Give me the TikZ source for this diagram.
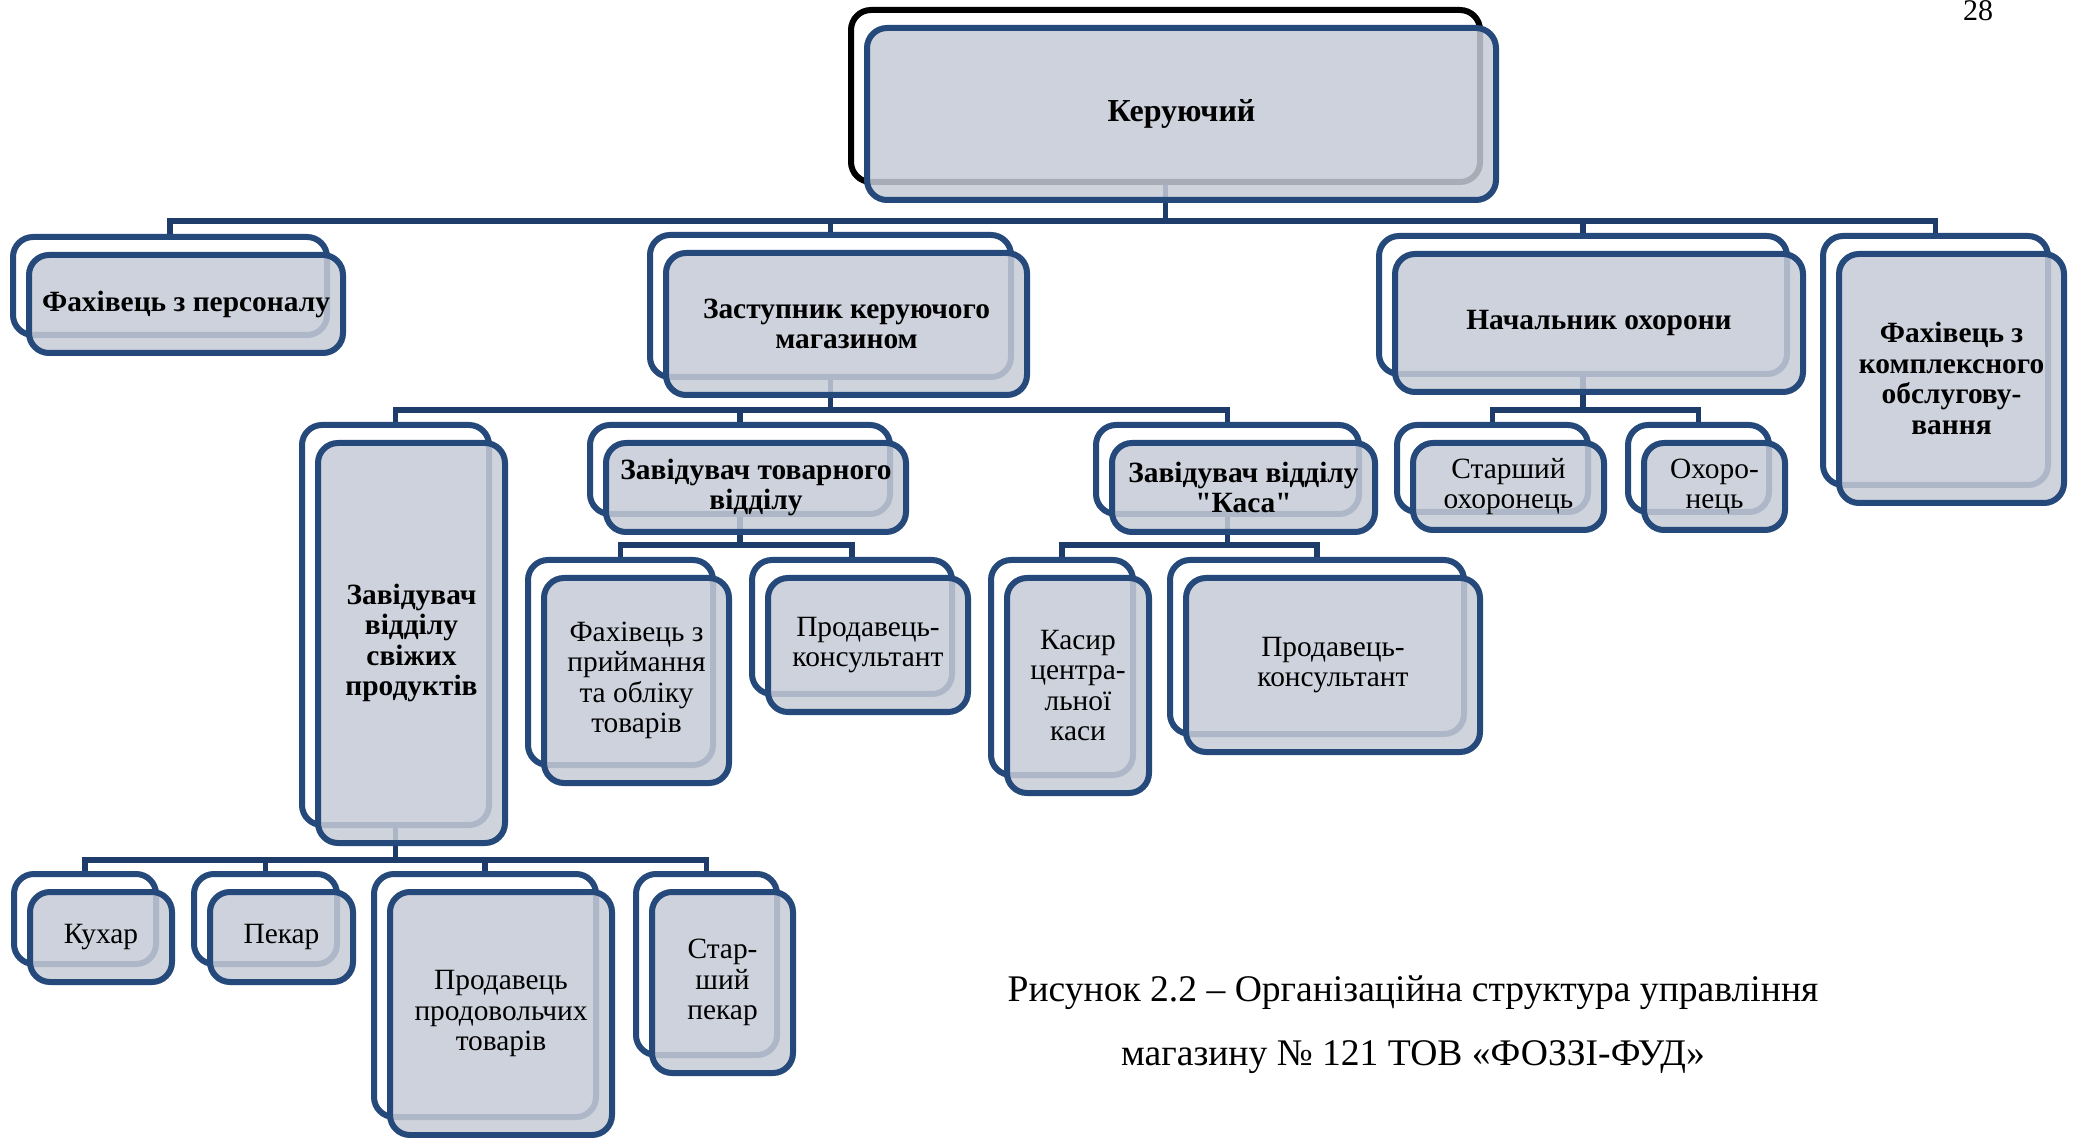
\documentclass[tikz,border=0pt]{standalone}
\usepackage{fontspec}
\setmainfont{Liberation Serif}[Ligatures=TeXOff]
\usetikzlibrary{calc}
\definecolor{frameblue}{HTML}{24497A}
\definecolor{linkblue}{HTML}{1E3C6A}
\definecolor{boxgrey}{HTML}{C6CBD6}

\begin{document}
\begin{tikzpicture}[x=0.5pt,y=0.5pt,yscale=-1,xscale=1,
  box size/.style 2 args={minimum width=#1,minimum height=#2},
  back/.style={draw=frameblue,line width=3pt,rounded corners=10pt,fill=white,inner sep=0pt},
  front/.style={draw=frameblue,line width=3pt,rounded corners=10pt,fill=boxgrey,fill opacity=0.85,text opacity=1,inner sep=0pt,align=center,yshift=-1pt,font=\fontsize{14.7}{15.2}\selectfont},
  head/.style={front,font=\fontsize{14.7}{15.2}\selectfont\bfseries},
  link/.style={draw=linkblue,line width=2.6pt}]
\useasboundingbox (0,0) rectangle (2078,1138);

%Shape: Back Frames
\node[back,draw=black,box size={314.5pt}{86pt}] (ker) at (1165.5,96) {};
\node[back,box size={157pt}{49pt}] (pers) at (170,286) {};
\node[back,box size={180.5pt}{71pt}] (zast) at (830.5,306) {};
\node[back,box size={204pt}{69pt}] (okh) at (1583,305) {};
\node[back,box size={112.5pt}{124.5pt}] (kompl) at (1935.5,360.5) {};
\node[back,box size={93.5pt}{200pt}] (svizh) at (395.5,625) {};
\node[back,box size={150pt}{44.5pt}] (tovar) at (740,469.5) {};
\node[back,box size={131.5pt}{44.5pt}] (kasa) at (1227.5,469.5) {};
\node[back,box size={95.5pt}{43.5pt}] (starokh) at (1492.5,468.5) {};
\node[back,box size={70.5pt}{43.5pt}] (okhor) at (1698.5,468.5) {};
\node[back,box size={92.5pt}{102.5pt}] (priym) at (620.5,662.5) {};
\node[back,box size={100pt}{67pt}] (prod1) at (852,627) {};
\node[back,box size={71pt}{107.5pt}] (kasyr) at (1062,667.5) {};
\node[back,box size={147pt}{87pt}] (prod2) at (1317,647) {};
\node[back,box size={71pt}{45pt}] (kukhar) at (85,919) {};
\node[back,box size={71.5pt}{45pt}] (pekar) at (265.5,919) {};
\node[back,box size={111pt}{121.5pt}] (prodov) at (485,995.5) {};
\node[back,box size={70.5pt}{90.5pt}] (starpek) at (706.5,964.5) {};

%Connectors
\coordinate (busA) at (0,221);
\coordinate (busB) at (0,410);
\coordinate (busC) at (0,545);
\coordinate (busD) at (0,860);
\foreach \c in {pers,zast,okh,kompl}
  \draw[link] (ker.south) -- (ker.south |- busA) -| (\c.north);
\foreach \c in {svizh,tovar,kasa}
  \draw[link] (zast.south) -- (zast.south |- busB) -| (\c.north);
\foreach \c in {starokh,okhor}
  \draw[link] (okh.south) -- (okh.south |- busB) -| (\c.north);
\foreach \c in {priym,prod1}
  \draw[link] (tovar.south) -- (tovar.south |- busC) -| (\c.north);
\foreach \c in {kasyr,prod2}
  \draw[link] (kasa.south) -- (kasa.south |- busC) -| (\c.north);
\foreach \c in {kukhar,pekar,prodov,starpek}
  \draw[link] (svizh.south) -- (svizh.south |- busD) -| (\c.north);

% Text Node
\node[head,font=\fontsize{16}{16.5}\selectfont\bfseries,box size={314.5pt}{86pt}] (ker-t) at ([shift={(16,16)}]ker.center) {Керуючий};
\node[head,box size={157pt}{49pt}] (pers-t) at ([shift={(16,16)}]pers.center) {Фахівець з персоналу};
\node[head,box size={180.5pt}{71pt}] (zast-t) at ([shift={(16,16)}]zast.center) {Заступник керуючого\\магазином};
\node[head,box size={204pt}{69pt}] (okh-t) at ([shift={(16,16)}]okh.center) {Начальник охорони};
\node[head,box size={112.5pt}{124.5pt}] (kompl-t) at ([shift={(16,16)}]kompl.center) {Фахівець з\\комплексного\\обслугову-\\вання};
\node[head,box size={93.5pt}{200pt}] (svizh-t) at ([shift={(16,16)}]svizh.center) {Завідувач\\відділу\\свіжих\\продуктів};
\node[head,box size={150pt}{44.5pt}] (tovar-t) at ([shift={(16,16)}]tovar.center) {Завідувач товарного\\відділу};
\node[head,box size={131.5pt}{44.5pt}] (kasa-t) at ([shift={(16,16)}]kasa.center) {Завідувач відділу\\"Каса"};
\node[front,box size={95.5pt}{43.5pt}] (starokh-t) at ([shift={(16,16)}]starokh.center) {Старший\\охоронець};
\node[front,box size={70.5pt}{43.5pt}] (okhor-t) at ([shift={(16,16)}]okhor.center) {Охоро-\\нець};
\node[front,box size={92.5pt}{102.5pt}] (priym-t) at ([shift={(16,16)}]priym.center) {Фахівець з\\приймання\\та обліку\\товарів};
\node[front,box size={100pt}{67pt}] (prod1-t) at ([shift={(16,16)}]prod1.center) {Продавець-\\консультант};
\node[front,box size={71pt}{107.5pt}] (kasyr-t) at ([shift={(16,16)}]kasyr.center) {Касир\\центра-\\льної\\каси};
\node[front,box size={147pt}{87pt}] (prod2-t) at ([shift={(16,16)}]prod2.center) {Продавець-\\консультант};
\node[front,box size={71pt}{45pt}] (kukhar-t) at ([shift={(16,16)}]kukhar.center) {Кухар};
\node[front,box size={71.5pt}{45pt}] (pekar-t) at ([shift={(16,16)}]pekar.center) {Пекар};
\node[front,box size={111pt}{121.5pt}] (prodov-t) at ([shift={(16,16)}]prodov.center) {Продавець\\продовольчих\\товарів};
\node[front,box size={70.5pt}{90.5pt}] (starpek-t) at ([shift={(16,16)}]starpek.center) {Стар-\\ший\\пекар};

% Caption and page number
\node[anchor=base,font=\fontsize{18.8}{24}\selectfont] (cap1) at (1413,1001) {Рисунок 2.2 – Організаційна структура управління};
\node[anchor=base,font=\fontsize{18.8}{24}\selectfont] (cap2) at (1413,1065) {магазину № 121 ТОВ «ФОЗЗІ-ФУД»};
\node[anchor=base,font=\fontsize{15}{15}\selectfont] (page) at (1978,21) {28};

\end{tikzpicture}
\end{document}
